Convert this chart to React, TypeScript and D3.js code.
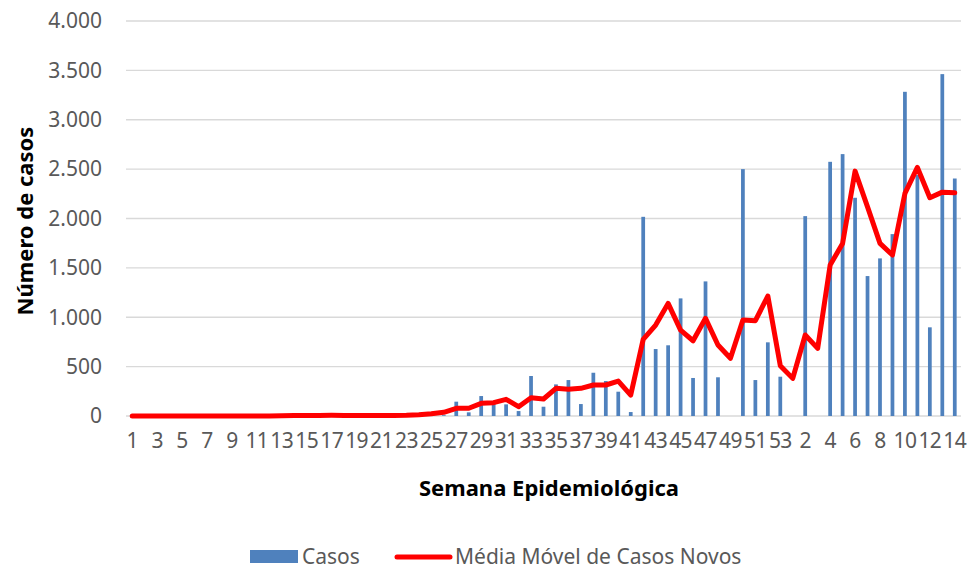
import React, { useRef, useEffect } from "react";
import * as d3 from "d3";

// week labels: 2020 weeks 1-53, then 2021 weeks 1-14
const semanas = [
  "1", "2", "3", "4", "5", "6", "7", "8", "9", "10",
  "11", "12", "13", "14", "15", "16", "17", "18", "19", "20",
  "21", "22", "23", "24", "25", "26", "27", "28", "29", "30",
  "31", "32", "33", "34", "35", "36", "37", "38", "39", "40",
  "41", "42", "43", "44", "45", "46", "47", "48", "49", "50",
  "51", "52", "53",
  "1", "2", "3", "4", "5", "6", "7", "8", "9", "10",
  "11", "12", "13", "14",
];

const casos = [
  0, 0, 0, 0, 0, 0, 0, 0, 0, 0,
  0, 0, 0, 2, 4, 3, 5, 3, 2, 4,
  3, 5, 6, 8, 6, 8, 145, 37, 202, 145,
  118, 50, 405, 94, 320, 364, 121, 438, 354, 246,
  40, 2017, 678, 716, 1191, 385, 1363, 392, 0, 2500,
  364, 746, 398,
  0, 2024, 0, 2574, 2652, 2210, 1417, 1596, 1842, 3283,
  2440, 898, 3462, 2405,
];

const mediaMovel = [
  0, 0, 0, 0, 0, 0, 0, 0, 0, 0,
  0, 1, 2, 4, 5, 6, 7, 6, 5, 4,
  5, 5, 7, 12, 22, 37, 78, 78, 128, 135,
  169, 94, 185, 172, 280, 270, 280, 314, 314, 354,
  212, 776, 921, 1140, 870, 762, 989, 719, 584, 972,
  965, 1215, 510,
  381, 820, 685, 1528, 1748, 2480, 2118, 1748, 1630, 2254,
  2517, 2210, 2267, 2260,
];

const yTicks = [0, 500, 1000, 1500, 2000, 2500, 3000, 3500, 4000];
const yTickLabels = ["0", "500", "1.000", "1.500", "2.000", "2.500", "3.000", "3.500", "4.000"];

const FONT = "'Noto Sans', sans-serif";

const App = () => {
  const svgRef = useRef<SVGSVGElement | null>(null);

  useEffect(() => {
    const svg = d3.select(svgRef.current);
    svg.selectAll("*").remove();

    const width = 967;
    const height = 569;
    const margin = { top: 21, right: 6, bottom: 153, left: 126 };

    const idx = semanas.map((_, i) => i);

    const xScale = d3
      .scaleBand<number>()
      .domain(idx)
      .range([margin.left, width - margin.right])
      .padding(0);

    const yScale = d3
      .scaleLinear()
      .domain([0, 4000])
      .range([height - margin.bottom, margin.top]);

    const cx = (i: number) => (xScale(i) as number) + xScale.bandwidth() / 2;

    // grid lines
    const grid = svg.append("g");
    yTicks.forEach((t) => {
      grid
        .append("line")
        .attr("x1", margin.left)
        .attr("x2", width - margin.right)
        .attr("y1", yScale(t))
        .attr("y2", yScale(t))
        .attr("stroke", "#D9D9D9")
        .attr("stroke-width", 1.3);
    });

    // y tick labels
    svg
      .append("g")
      .selectAll("text")
      .data(yTicks)
      .enter()
      .append("text")
      .attr("x", 102)
      .attr("y", (d) => yScale(d))
      .attr("dy", "0.35em")
      .attr("text-anchor", "end")
      .attr("fill", "#595959")
      .style("font-family", FONT)
      .style("font-size", "21px")
      .text((_, i) => yTickLabels[i]);

    // x tick labels (every other week)
    svg
      .append("g")
      .selectAll("text")
      .data(idx.filter((i) => i % 2 === 0))
      .enter()
      .append("text")
      .attr("x", (i) => cx(i))
      .attr("y", 441)
      .attr("dy", "0.35em")
      .attr("text-anchor", "middle")
      .attr("fill", "#595959")
      .style("font-family", FONT)
      .style("font-size", "21px")
      .style("letter-spacing", "-0.6px")
      .text((i) => semanas[i]);

    // bars
    const barW = xScale.bandwidth() * 0.3;
    svg
      .append("g")
      .selectAll("rect")
      .data(casos)
      .enter()
      .append("rect")
      .attr("x", (_, i) => cx(i) - barW / 2)
      .attr("y", (d) => yScale(d))
      .attr("width", barW)
      .attr("height", (d) => yScale(0) - yScale(d))
      .attr("fill", "#4F81BD");

    // moving average line
    const line = d3
      .line<number>()
      .x((_, i) => cx(i))
      .y((d) => yScale(d));

    svg
      .append("path")
      .datum(mediaMovel)
      .attr("d", line)
      .attr("fill", "none")
      .attr("stroke", "#FF0000")
      .attr("stroke-width", 5)
      .attr("stroke-linejoin", "round")
      .attr("stroke-linecap", "round");

    // axis titles
    svg
      .append("text")
      .attr("x", 549)
      .attr("y", 488)
      .attr("dy", "0.35em")
      .attr("text-anchor", "middle")
      .attr("fill", "#000")
      .style("font-family", FONT)
      .style("font-size", "22px")
      .style("font-weight", "bold")
      .text("Semana Epidemiológica");

    svg
      .append("text")
      .attr("transform", "translate(25,221) rotate(-90)")
      .attr("dy", "0.35em")
      .attr("text-anchor", "middle")
      .attr("fill", "#000")
      .style("font-family", FONT)
      .style("font-size", "22px")
      .style("font-weight", "bold")
      .text("Número de casos");

    // legend
    const legend = svg.append("g");
    legend
      .append("rect")
      .attr("x", 250)
      .attr("y", 550)
      .attr("width", 48)
      .attr("height", 13)
      .attr("fill", "#4F81BD");
    legend
      .append("text")
      .attr("x", 302)
      .attr("y", 557)
      .attr("dy", "0.35em")
      .attr("fill", "#595959")
      .style("font-family", FONT)
      .style("font-size", "21px")
      .text("Casos");
    legend
      .append("line")
      .attr("x1", 397)
      .attr("x2", 450)
      .attr("y1", 557)
      .attr("y2", 557)
      .attr("stroke", "#FF0000")
      .attr("stroke-width", 5)
      .attr("stroke-linecap", "round");
    legend
      .append("text")
      .attr("x", 455)
      .attr("y", 557)
      .attr("dy", "0.35em")
      .attr("fill", "#595959")
      .style("font-family", FONT)
      .style("font-size", "21px")
      .text("Média Móvel de Casos Novos");
  }, []);

  return (
    <svg
      ref={svgRef}
      width={967}
      height={569}
      style={{ position: "absolute", left: 0, top: 0, background: "#fff" }}
    ></svg>
  );
};

export default App;
